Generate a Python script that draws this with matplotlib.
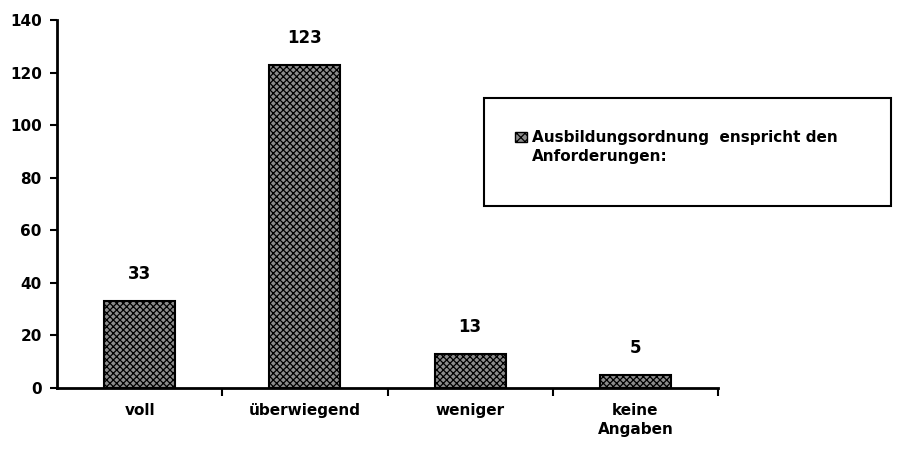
import matplotlib
matplotlib.use("Agg")
import matplotlib.pyplot as plt
from matplotlib.patches import Rectangle
import numpy as np

categories = ["voll", "überwiegend", "weniger", "keine\nAngaben"]
values = [33, 123, 13, 5]
yticks = [0, 20, 40, 60, 80, 100, 120, 140]
legend_label = "Ausbildungsordnung  enspricht den\nAnforderungen:"

plt.rcParams['font.family'] = ['DejaVu Sans']
plt.rcParams['font.weight'] = 'bold'
plt.rcParams['hatch.linewidth'] = 0.9

fig = plt.figure(figsize=(9.02, 4.57), dpi=100)
ax = fig.add_axes([57/902, 1-388/457, (718-57)/902, (388-20)/457])

x = np.arange(len(categories))
face = '#8c8c8c'
bars = ax.bar(x, values, width=0.43, color=face, edgecolor='black',
              linewidth=1.5, hatch='xxxxx')

for xi, v in zip(x, values):
    ax.annotate(str(v), (xi, v), xytext=(0, 13), textcoords='offset points',
                ha='center', va='bottom', fontsize=12, fontweight='bold')

ax.set_xlim(-0.5, len(categories) - 0.5)
ax.set_ylim(0, 140)
ax.set_yticks(yticks)
ax.set_yticklabels([str(t) for t in yticks], fontsize=11, fontweight='bold')
ax.set_xticks(x)
ax.set_xticklabels(categories, fontsize=11, fontweight='bold', linespacing=1.35)
ax.set_xticks(np.arange(len(categories)) + 0.5, minor=True)
ax.tick_params(axis='x', which='major', length=0, pad=11)
ax.tick_params(axis='x', which='minor', length=6, width=1.5, direction='out')
ax.tick_params(axis='y', length=5, width=1.5, direction='out', pad=6)

for s in ['top', 'right']:
    ax.spines[s].set_visible(False)
for s in ['left', 'bottom']:
    ax.spines[s].set_linewidth(2)

# legend box
fig.patches.append(Rectangle((484/902, 1-206/457), (891-484)/902, (206-98)/457,
                             transform=fig.transFigure, facecolor='white',
                             edgecolor='black', linewidth=1.5))
fig.patches.append(Rectangle((515/902, 1-142/457), 12/902, 10/457,
                             transform=fig.transFigure, facecolor=face,
                             edgecolor='black', linewidth=1, hatch='xxxx'))
fig.text(532/902, 1-130/457, legend_label, fontsize=11, fontweight='bold',
         va='top', ha='left', linespacing=1.3)

fig.savefig("out.png", dpi=100)
